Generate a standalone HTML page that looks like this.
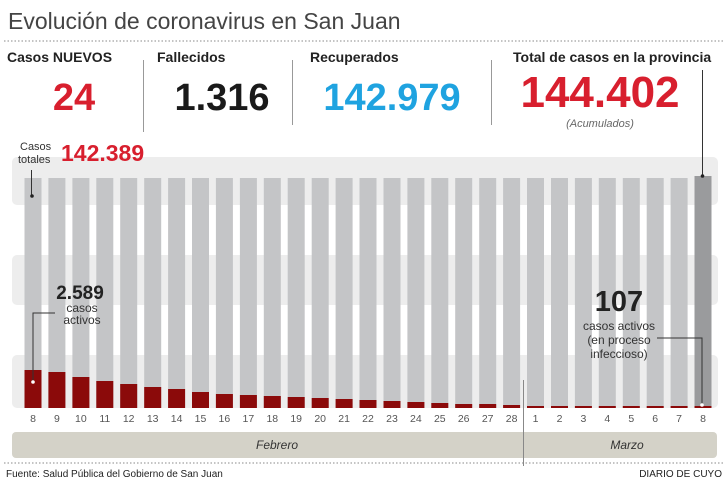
<!DOCTYPE html>
<html><head><meta charset="utf-8"><style>body{margin:0;background:#fff}svg{display:block}text{font-family:"Liberation Sans",sans-serif}</style></head><body>
<svg width="728" height="487" viewBox="0 0 728 487" xmlns="http://www.w3.org/2000/svg">
<text x="8" y="29" font-size="23" fill="#444">Evolución de coronavirus en San Juan</text>
<line x1="4" y1="41" x2="724" y2="41" stroke="#888" stroke-dasharray="1.5 2"/>
<text x="7" y="62" font-size="14" font-weight="bold" fill="#222">Casos NUEVOS</text>
<text x="157" y="62" font-size="14" font-weight="bold" fill="#222">Fallecidos</text>
<text x="310" y="62" font-size="14" font-weight="bold" fill="#222">Recuperados</text>
<text x="513" y="62" font-size="14" font-weight="bold" fill="#222">Total de casos en la provincia</text>
<text x="74" y="110" font-size="38" font-weight="bold" fill="#d81f2e" text-anchor="middle">24</text>
<text x="222" y="110" font-size="38" font-weight="bold" fill="#1a1a1a" text-anchor="middle">1.316</text>
<text x="392" y="110" font-size="38" font-weight="bold" fill="#1fa3e0" text-anchor="middle">142.979</text>
<text x="600" y="107" font-size="44" font-weight="bold" fill="#d81f2e" text-anchor="middle">144.402</text>
<text x="600" y="127" font-size="11" font-style="italic" fill="#666" text-anchor="middle">(Acumulados)</text>
<g stroke="#999" stroke-width="1"><line x1="143.5" y1="60" x2="143.5" y2="132"/><line x1="292.5" y1="60" x2="292.5" y2="125"/><line x1="491.5" y1="60" x2="491.5" y2="125"/></g>
<g fill="#ededed"><rect x="12" y="157" width="706" height="48" rx="5"/><rect x="12" y="255" width="706" height="50" rx="5"/><rect x="12" y="355" width="706" height="53" rx="5"/></g>
<text x="20" y="150" font-size="11" fill="#333">Casos</text>
<text x="18" y="163" font-size="11" fill="#333">totales</text>
<text x="61" y="161" font-size="23" font-weight="bold" fill="#d81f2e">142.389</text>
<g fill="#c4c5c7">
<rect x="24.5" y="178" width="17" height="230"/><rect x="48.4" y="178" width="17" height="230"/><rect x="72.4" y="178" width="17" height="230"/><rect x="96.3" y="178" width="17" height="230"/><rect x="120.2" y="178" width="17" height="230"/><rect x="144.2" y="178" width="17" height="230"/><rect x="168.1" y="178" width="17" height="230"/><rect x="192" y="178" width="17" height="230"/><rect x="215.9" y="178" width="17" height="230"/><rect x="239.9" y="178" width="17" height="230"/><rect x="263.8" y="178" width="17" height="230"/><rect x="287.7" y="178" width="17" height="230"/><rect x="311.7" y="178" width="17" height="230"/><rect x="335.6" y="178" width="17" height="230"/><rect x="359.5" y="178" width="17" height="230"/><rect x="383.5" y="178" width="17" height="230"/><rect x="407.4" y="178" width="17" height="230"/><rect x="431.3" y="178" width="17" height="230"/><rect x="455.2" y="178" width="17" height="230"/><rect x="479.2" y="178" width="17" height="230"/><rect x="503.1" y="178" width="17" height="230"/><rect x="527" y="178" width="17" height="230"/><rect x="551" y="178" width="17" height="230"/><rect x="574.9" y="178" width="17" height="230"/><rect x="598.8" y="178" width="17" height="230"/><rect x="622.8" y="178" width="17" height="230"/><rect x="646.7" y="178" width="17" height="230"/><rect x="670.6" y="178" width="17" height="230"/></g>
<rect x="694.5" y="176" width="17" height="232" fill="#9a9b9d"/>
<g fill="#8b0a0a">
<rect x="24.5" y="370" width="17" height="38"/><rect x="48.4" y="372" width="17" height="36"/><rect x="72.4" y="377" width="17" height="31"/><rect x="96.3" y="381" width="17" height="27"/><rect x="120.2" y="384" width="17" height="24"/><rect x="144.2" y="387" width="17" height="21"/><rect x="168.1" y="389" width="17" height="19"/><rect x="192" y="392" width="17" height="16"/><rect x="215.9" y="394" width="17" height="14"/><rect x="239.9" y="395" width="17" height="13"/><rect x="263.8" y="396" width="17" height="12"/><rect x="287.7" y="397" width="17" height="11"/><rect x="311.7" y="398" width="17" height="10"/><rect x="335.6" y="399" width="17" height="9"/><rect x="359.5" y="400" width="17" height="8"/><rect x="383.5" y="401" width="17" height="7"/><rect x="407.4" y="402" width="17" height="6"/><rect x="431.3" y="403" width="17" height="5"/><rect x="455.2" y="404" width="17" height="4"/><rect x="479.2" y="404" width="17" height="4"/><rect x="503.1" y="405" width="17" height="3"/><rect x="527" y="406" width="17" height="2"/><rect x="551" y="406" width="17" height="2"/><rect x="574.9" y="406" width="17" height="2"/><rect x="598.8" y="406" width="17" height="2"/><rect x="622.8" y="406" width="17" height="2"/><rect x="646.7" y="406" width="17" height="2"/><rect x="670.6" y="406" width="17" height="2"/><rect x="694.5" y="406" width="17" height="2"/></g>
<g stroke="#333" fill="none" stroke-width="1"><line x1="31.5" y1="170" x2="31.5" y2="195"/><polyline points="33,382 33,313 55,313"/><polyline points="657,338 702,338 702,405"/><line x1="702.5" y1="70" x2="702.5" y2="177"/></g>
<circle cx="32" cy="196" r="1.8" fill="#222"/><circle cx="33" cy="382" r="1.8" fill="#fff"/><circle cx="702" cy="405" r="1.8" fill="#fff"/><circle cx="702.5" cy="176" r="1.8" fill="#222"/>
<text x="80" y="299" font-size="19" font-weight="bold" fill="#222" text-anchor="middle">2.589</text>
<text x="82" y="312" font-size="12" fill="#333" text-anchor="middle">casos</text>
<text x="82" y="324" font-size="12" fill="#333" text-anchor="middle">activos</text>
<text x="619" y="311" font-size="29" font-weight="bold" fill="#222" text-anchor="middle">107</text>
<text x="619" y="330" font-size="12" fill="#333" text-anchor="middle">casos activos</text>
<text x="619" y="344" font-size="12" fill="#333" text-anchor="middle">(en proceso</text>
<text x="619" y="358" font-size="12" fill="#333" text-anchor="middle">infeccioso)</text>
<g font-size="10.5" fill="#555" text-anchor="middle">
<text x="33" y="422">8</text><text x="56.9" y="422">9</text><text x="80.9" y="422">10</text><text x="104.8" y="422">11</text><text x="128.7" y="422">12</text><text x="152.7" y="422">13</text><text x="176.6" y="422">14</text><text x="200.5" y="422">15</text><text x="224.4" y="422">16</text><text x="248.4" y="422">17</text><text x="272.3" y="422">18</text><text x="296.2" y="422">19</text><text x="320.2" y="422">20</text><text x="344.1" y="422">21</text><text x="368" y="422">22</text><text x="392" y="422">23</text><text x="415.9" y="422">24</text><text x="439.8" y="422">25</text><text x="463.7" y="422">26</text><text x="487.7" y="422">27</text><text x="511.6" y="422">28</text><text x="535.5" y="422">1</text><text x="559.5" y="422">2</text><text x="583.4" y="422">3</text><text x="607.3" y="422">4</text><text x="631.3" y="422">5</text><text x="655.2" y="422">6</text><text x="679.1" y="422">7</text><text x="703" y="422">8</text></g>
<rect x="12" y="432" width="705" height="26" rx="4" fill="#d4d2c8"/>
<line x1="523.5" y1="380" x2="523.5" y2="466" stroke="#888"/>
<text x="277" y="449" font-size="12" font-style="italic" fill="#333" text-anchor="middle">Febrero</text>
<text x="627" y="449" font-size="12" font-style="italic" fill="#333" text-anchor="middle">Marzo</text>
<line x1="4" y1="463" x2="724" y2="463" stroke="#888" stroke-dasharray="1.5 2"/>
<text x="6" y="477" font-size="10" fill="#222">Fuente: Salud Pública del Gobierno de San Juan</text>
<text x="722" y="477" font-size="10" fill="#222" text-anchor="end">DIARIO DE CUYO</text>
</svg>
</body></html>
